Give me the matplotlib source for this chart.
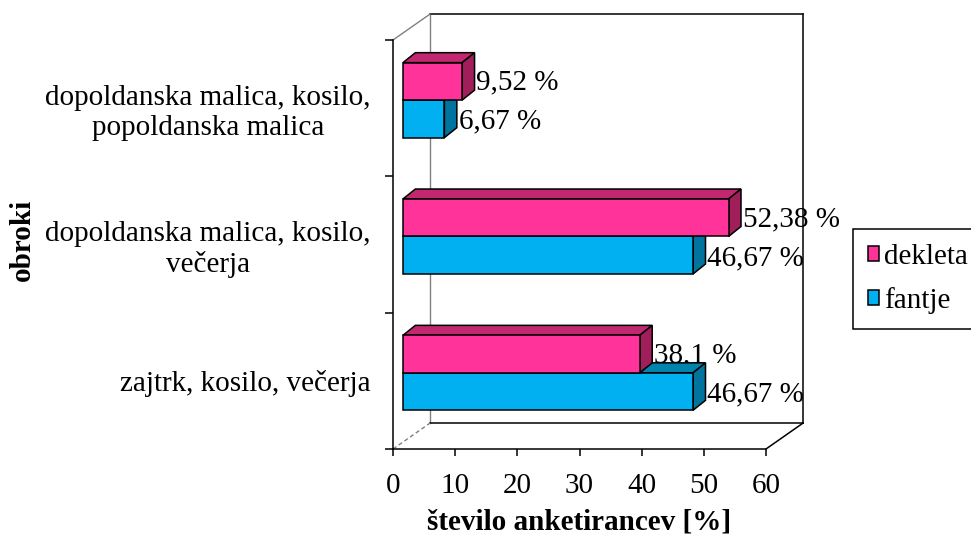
import matplotlib.pyplot as plt
from matplotlib.patches import Polygon, Patch

plt.rcParams["font.family"] = ["Liberation Serif", "DejaVu Serif"]

categories = [
    "zajtrk, kosilo, večerja",
    "dopoldanska malica, kosilo,\nvečerja",
    "dopoldanska malica, kosilo,\npopoldanska malica",
]
dekleta = [38.1, 52.38, 9.52]
fantje = [46.67, 46.67, 6.67]
dekleta_lbl = ["38,1 %", "52,38 %", "9,52 %"]
fantje_lbl = ["46,67 %", "46,67 %", "6,67 %"]

# 3D look, in data units
DX, DY = 5.95, 0.19       # full depth of the walls
FX, FY = 1.6, 0.059       # front face of the bars
BX, BY = 2.0, 0.073       # depth of the bars
H = 0.275                 # bar height

PINK = ("#FF3399", "#C2286F", "#A01E5A")
BLUE = ("#00B0F0", "#0083AD", "#00739E")
FS = 21

fig = plt.figure(figsize=(9.71, 5.39), dpi=100)
ax = fig.add_axes([393 / 971, 1 - 449 / 539, 373 / 971, 409 / 539])
ax.set_xlim(0, 60)
ax.set_ylim(0, 3)


def bar3d(x, y0, colors, z):
    """Bar of length x whose front face spans y0..y0+H, shifted into depth."""
    x0, yb = FX, y0 + FY
    front = [(x0, yb), (x0 + x, yb), (x0 + x, yb + H), (x0, yb + H)]
    top = [(x0, yb + H), (x0 + x, yb + H), (x0 + x + BX, yb + H + BY), (x0 + BX, yb + H + BY)]
    side = [(x0 + x, yb), (x0 + x + BX, yb + BY), (x0 + x + BX, yb + H + BY), (x0 + x, yb + H)]
    for pts, c in [(top, colors[1]), (side, colors[2]), (front, colors[0])]:
        ax.add_patch(Polygon(pts, closed=True, facecolor=c, edgecolor="black",
                             lw=1.1, clip_on=False, zorder=z))


# walls
kw = dict(clip_on=False, zorder=1)
ax.plot([DX, DX], [DY, 3 + DY], color="#808080", lw=1, **kw)
ax.plot([DX, 60 + DX], [3 + DY, 3 + DY], color="black", lw=1.1, **kw)
ax.plot([60 + DX, 60 + DX], [DY, 3 + DY], color="black", lw=1.1, **kw)
ax.plot([DX, 60 + DX], [DY, DY], color="black", lw=1.1, **kw)
ax.plot([0, DX], [3, 3 + DY], color="#808080", lw=1, **kw)
ax.plot([0, DX], [0, DY], color="#808080", lw=1, ls=(0, (3, 2)), **kw)
ax.plot([60, 60 + DX], [0, DY], color="black", lw=1.1, **kw)

for i in range(len(categories)):
    c = i + 0.5
    z = 10 + (len(categories) - i) * 4
    # order: girls' label, boys' bar, girls' bar, boys' label
    ax.text(dekleta[i] + FX + BX + 0.3, c + FY + H / 2 - 0.01, dekleta_lbl[i],
            fontsize=FS, va="center", ha="left", zorder=z)
    bar3d(fantje[i], c - H, BLUE, z + 1)
    bar3d(dekleta[i], c, PINK, z + 2)
    ax.text(fantje[i] + FX + BX + 0.3, c + FY - H / 2 - 0.02, fantje_lbl[i],
            fontsize=FS, va="center", ha="left", zorder=z + 3)

ax.spines[["top", "right"]].set_visible(False)
for s in ["left", "bottom"]:
    ax.spines[s].set_linewidth(1.1)
ax.set_xticks(range(0, 61, 10))
ax.tick_params(axis="x", direction="out", length=5, width=1.1, labelsize=FS, pad=12)
ax.set_yticks([0.5, 1.5, 2.5])
ax.set_yticklabels(categories, multialignment="center")
ax.set_yticks([0, 1, 2, 3], minor=True)
ax.tick_params(axis="y", which="major", length=0, labelsize=FS, pad=16)
ax.tick_params(axis="y", which="minor", direction="out", length=6, width=1.1)

ax.set_xlabel("število anketirancev [%]", fontsize=FS, fontweight="bold", labelpad=7)
ax.set_ylabel("obroki", fontsize=FS, fontweight="bold")
ax.yaxis.set_label_coords(-0.957, 0.51)

handles = [Patch(facecolor=PINK[0], edgecolor="black", lw=1.1),
           Patch(facecolor=BLUE[0], edgecolor="black", lw=1.1)]
leg = fig.legend(handles, ["dekleta", "fantje"], loc="upper left",
                 bbox_to_anchor=(853 / 971, 1 - 229 / 539), borderaxespad=0,
                 fontsize=FS, handlelength=0.4, handleheight=0.4, handletextpad=0.15,
                 labelspacing=0.6, borderpad=0.5, fancybox=False, framealpha=1)
leg.get_frame().set_edgecolor("black")
leg.get_frame().set_linewidth(1.1)

fig.savefig("out.png", dpi=100)
